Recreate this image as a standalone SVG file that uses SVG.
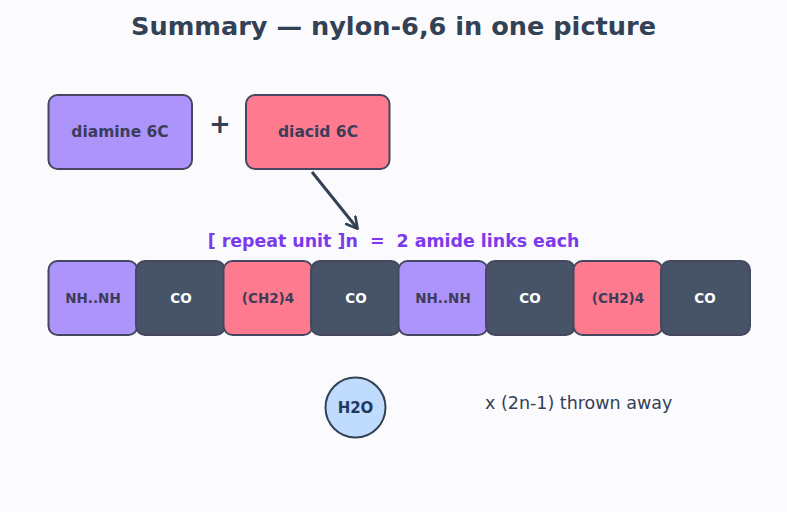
<svg xmlns="http://www.w3.org/2000/svg" width="787" height="512" viewBox="0 0 787 512">
<defs>
<style>
.t{font-family:"DejaVu Sans","Liberation Sans",sans-serif;font-weight:bold;text-anchor:middle;dominant-baseline:central}
.box{stroke:#45475f;stroke-width:2}
.pur{fill:#ac94fa}
.pink{fill:#fe7b8f}
.dark{fill:#475467}
.lt{fill:#3b3d5a}
.wt{fill:#ffffff}
</style>
<marker id="ah" viewBox="0 0 14 14" refX="11" refY="7" markerWidth="14" markerHeight="14" markerUnits="userSpaceOnUse" orient="auto">
<path d="M1,1 L12,7 L1,13" fill="none" stroke="#334155" stroke-width="2.6" stroke-linecap="round" stroke-linejoin="round"/>
</marker>
</defs>
<rect width="787" height="512" fill="#fbfbfe"/>
<text class="t" x="393.5" y="26" font-size="25.6" fill="#334155">Summary — nylon-6,6 in one picture</text>

<g id="diamine"><rect class="box pur" x="48.5" y="95" width="143.5" height="74" rx="9"/><text class="t lt" x="120" y="132" font-size="15.5">diamine 6C</text></g>
<g id="plus"><text class="t" x="220" y="124" font-size="26" fill="#334155">+</text></g>
<g id="diacid"><rect class="box pink" x="246" y="95" width="143.5" height="74" rx="9"/><text class="t lt" x="318" y="132" font-size="15.5">diacid 6C</text></g>

<g id="connectors"><line x1="312" y1="172" x2="357" y2="228" stroke="#334155" stroke-width="3" marker-end="url(#ah)"/></g>

<g id="label"><text class="t" x="393.5" y="241" font-size="17.4" fill="#7c3aed" xml:space="preserve" style="white-space:pre">[ repeat unit ]n  =  2 amide links each</text></g>

<g id="u1"><rect class="box pur" x="48.5" y="261" width="89" height="74" rx="9"/><text class="t lt" x="93" y="298" font-size="13.5">NH..NH</text></g>
<g id="u2"><rect class="box dark" x="136" y="261" width="89" height="74" rx="9"/><text class="t wt" x="181" y="298" font-size="13.5">CO</text></g>
<g id="u3"><rect class="box pink" x="223.5" y="261" width="89" height="74" rx="9"/><text class="t lt" x="268" y="298" font-size="13.5">(CH2)4</text></g>
<g id="u4"><rect class="box dark" x="311" y="261" width="89" height="74" rx="9"/><text class="t wt" x="356" y="298" font-size="13.5">CO</text></g>
<g id="u5"><rect class="box pur" x="398.5" y="261" width="89" height="74" rx="9"/><text class="t lt" x="443" y="298" font-size="13.5">NH..NH</text></g>
<g id="u6"><rect class="box dark" x="486" y="261" width="89" height="74" rx="9"/><text class="t wt" x="530" y="298" font-size="13.5">CO</text></g>
<g id="u7"><rect class="box pink" x="573.5" y="261" width="89" height="74" rx="9"/><text class="t lt" x="618" y="298" font-size="13.5">(CH2)4</text></g>
<g id="u8"><rect class="box dark" x="661" y="261" width="89" height="74" rx="9"/><text class="t wt" x="705" y="298" font-size="13.5">CO</text></g>

<g id="h2o"><circle cx="355.5" cy="407.5" r="30" fill="#bfdbfe" stroke="#334155" stroke-width="2"/><text class="t" x="355.5" y="408" font-size="15" fill="#1e3a5f">H2O</text></g>
<g id="note"><text x="485" y="403" font-family="DejaVu Sans,sans-serif" font-size="17.5" fill="#334155" dominant-baseline="central">x (2n-1) thrown away</text></g>
</svg>
